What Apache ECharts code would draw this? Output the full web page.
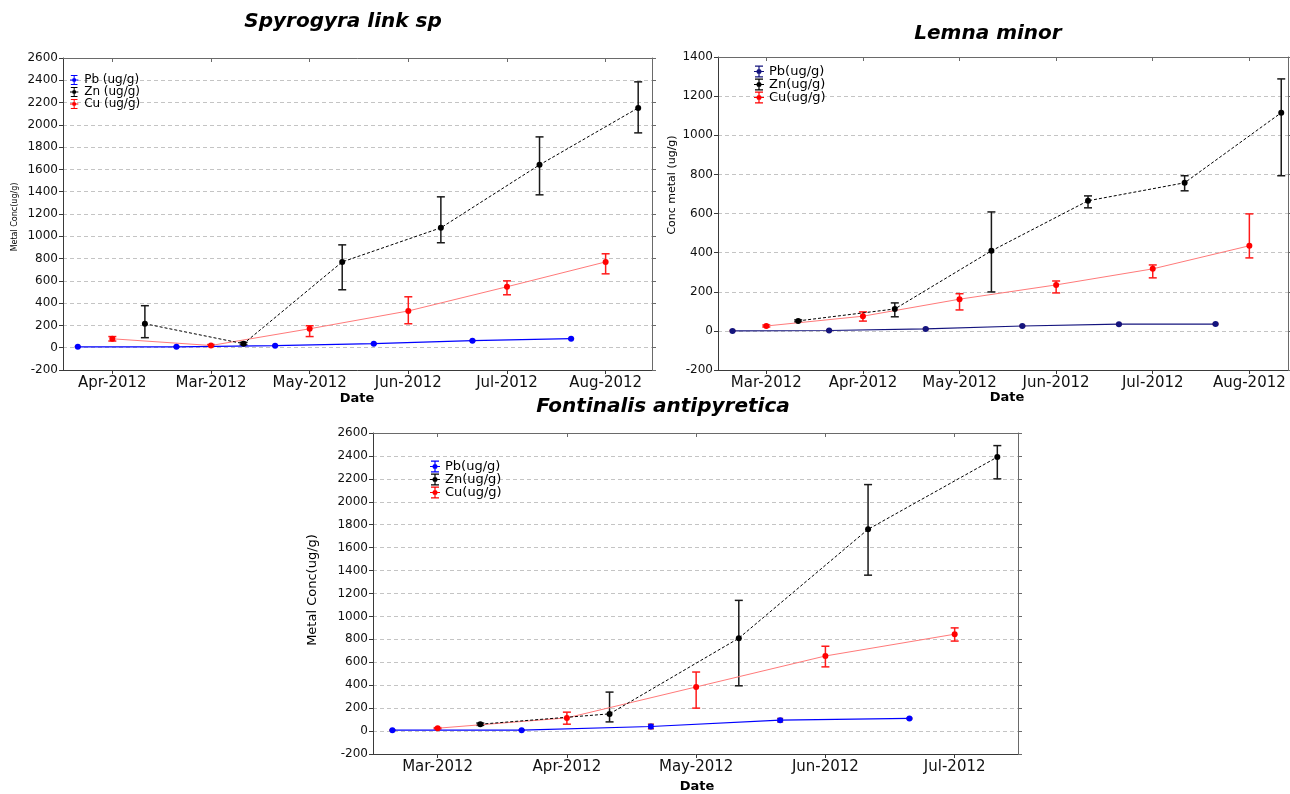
<!DOCTYPE html>
<html>
<head>
<meta charset="utf-8">
<script src="https://cdn.jsdelivr.net/npm/echarts@6/dist/echarts.min.js"></script>
<style>
html,body{margin:0;padding:0;background:#fff;}
#main{width:1290px;height:794px;}
</style>
</head>
<body>
<div id="main"></div>
<script>
// ---------- DATA ----------
// Chart 1: Spyrogyra link sp
const cats1 = ['Apr-2012','Mar-2012','May-2012','Jun-2012','Jul-2012','Aug-2012'];
const pb1   = [8, 8, 18, 36, 63, 81];
const pb1Lo = [5, 5, 15, 33, 60, 78];
const pb1Hi = [11, 11, 21, 39, 66, 84];
const cu1   = [80, 20, 170, 330, 547, 770];
const cu1Lo = [60, 12, 100, 215, 475, 663];
const cu1Hi = [100, 28, 197, 457, 600, 843];
const zn1   = [215, 36, 770, 1076, 1641, 2152];
const zn1Lo = [90, 25, 520, 942, 1372, 1928];
const zn1Hi = [377, 48, 923, 1354, 1892, 2386];

// Chart 2: Lemna minor
const cats2 = ['Mar-2012','Apr-2012','May-2012','Jun-2012','Jul-2012','Aug-2012'];
const pb2   = [0, 2, 10, 25, 34, 35];
const pb2Lo = [-3, -1, 7, 22, 31, 32];
const pb2Hi = [3, 5, 13, 28, 37, 38];
const cu2   = [25, 75, 162, 235, 317, 435];
const cu2Lo = [20, 50, 107, 194, 271, 373];
const cu2Hi = [30, 97, 190, 255, 337, 598];
const zn2   = [51, 112, 409, 665, 757, 1115];
const zn2Lo = [46, 72, 199, 629, 716, 793];
const zn2Hi = [56, 143, 608, 690, 793, 1288];

// Chart 3: Fontinalis antipyretica
const cats3 = ['Mar-2012','Apr-2012','May-2012','Jun-2012','Jul-2012'];
const pb3   = [8, 8, 40, 95, 110];
const pb3Lo = [5, 5, 20, 80, 105];
const pb3Hi = [11, 11, 60, 110, 115];
const cu3   = [25, 115, 385, 655, 845];
const cu3Lo = [20, 60, 200, 560, 785];
const cu3Hi = [30, 165, 515, 740, 900];
const zn3   = [60, 150, 810, 1760, 2390];
const zn3Lo = [50, 80, 395, 1360, 2200];
const zn3Hi = [70, 340, 1140, 2150, 2490];

const titles = ['Spyrogyra link sp', 'Lemna minor', 'Fontinalis antipyretica'];
const yNames = ['Metal Conc(ug/g)', 'Conc metal (ug/g)', 'Metal Conc(ug/g)'];
const legendNames = [
  ['Pb (ug/g)', 'Zn (ug/g)', 'Cu (ug/g)'],
  ['Pb(ug/g)', 'Zn(ug/g)', 'Cu(ug/g)'],
  ['Pb(ug/g)', 'Zn(ug/g)', 'Cu(ug/g)']
];

// ---------- LAYOUT / STYLE ----------
const FONT = 'DejaVu Sans';
const PB_OFF = -0.35, ZN_OFF = 0.33;
const ICON = 'path://M1,0H9V1.2H1Z M4.4,0H5.6V12H4.4Z M1,10.8H9V12H1Z M0,5.4H10V6.6H0Z M2.5,6A2.5,2.5 0 1,1 7.5,6A2.5,2.5 0 1,1 2.5,6Z';

const charts = [
  { cats: cats1, pb: [pb1, pb1Lo, pb1Hi], cu: [cu1, cu1Lo, cu1Hi], zn: [zn1, zn1Lo, zn1Hi],
    grid: {left: 63, top: 58, width: 589, height: 312}, xMin: -0.5, xMax: 5.47, yMin: -200, yMax: 2600,
    pbColor: '#0000ff', legend: {left: 70, top: 74, gap: 0, font: 12, lh: 10},
    title: [343, 22], yName: [15, 217, 8], date: [357, 399] },
  { cats: cats2, pb: [pb2, pb2Lo, pb2Hi], cu: [cu2, cu2Lo, cu2Hi], zn: [zn2, zn2Lo, zn2Hi],
    grid: {left: 718, top: 57, width: 570, height: 313}, xMin: -0.5, xMax: 5.40, yMin: -200, yMax: 1400,
    pbColor: '#14147e', legend: {left: 754, top: 65, gap: 0, font: 13, lh: 12},
    title: [988, 34], yName: [672, 185, 11], date: [1007, 398] },
  { cats: cats3, pb: [pb3, pb3Lo, pb3Hi], cu: [cu3, cu3Lo, cu3Hi], zn: [zn3, zn3Lo, zn3Hi],
    grid: {left: 373, top: 433, width: 645, height: 321}, xMin: -0.5, xMax: 4.49, yMin: -200, yMax: 2600,
    pbColor: '#0000ff', legend: {left: 430, top: 460, gap: 0, font: 13, lh: 12},
    title: [663, 407], yName: [313, 590, 13], date: [697, 787] }
];

const AXIS_COLOR = '#3a3a3a';

const option = {
  animation: false,
  backgroundColor: '#ffffff',
  grid: [], xAxis: [], yAxis: [], series: [], legend: [], graphic: []
};

function errSeries(name, xs, lo, hi, color, k, cap) {
  return {
    type: 'custom', name: name, xAxisIndex: 2 * k, yAxisIndex: 2 * k, z: 3, silent: true,
    data: xs.map((x, i) => [x, lo[i], hi[i]]),
    encode: {x: 0, y: [1, 2]},
    renderItem: function (params, api) {
      const x = api.value(0);
      const top = api.coord([x, api.value(2)]);
      const bot = api.coord([x, api.value(1)]);
      const st = {stroke: color, lineWidth: 1.5};
      return {type: 'group', children: [
        {type: 'line', shape: {x1: top[0], y1: top[1], x2: bot[0], y2: bot[1]}, style: st},
        {type: 'line', shape: {x1: top[0] - cap, y1: top[1], x2: top[0] + cap, y2: top[1]}, style: st},
        {type: 'line', shape: {x1: bot[0] - cap, y1: bot[1], x2: bot[0] + cap, y2: bot[1]}, style: st}
      ]};
    }
  };
}

function lineSeries(name, xs, vals, markColor, lineColor, dash, k, width) {
  return {
    type: 'line', name: name, xAxisIndex: 2 * k, yAxisIndex: 2 * k, z: 4,
    data: xs.map((x, i) => [x, vals[i]]),
    symbol: 'circle', symbolSize: 6, showSymbol: true,
    itemStyle: {color: markColor},
    lineStyle: {color: lineColor, width: width, type: dash},
    emphasis: {disabled: true}
  };
}

charts.forEach((c, k) => {
  option.grid.push(Object.assign({containLabel: false, outerBoundsMode: 'none'}, c.grid));
  const idx = c.cats.map((_, i) => i);
  // bottom axis (data)
  option.xAxis.push({
    type: 'value', gridIndex: k, position: 'bottom', min: c.xMin, max: c.xMax,
    axisLine: {show: true, onZero: false, lineStyle: {color: AXIS_COLOR, width: 1}},
    axisTick: {show: true, inside: false, length: 4, customValues: idx, lineStyle: {color: AXIS_COLOR}},
    axisLabel: {show: true, customValues: idx, margin: 6, fontFamily: FONT, fontSize: 15, color: '#111',
      formatter: v => c.cats[Math.round(v)] || ''},
    splitLine: {show: false}
  });
  // top mirror axis
  option.xAxis.push({
    type: 'value', gridIndex: k, position: 'top', min: c.xMin, max: c.xMax,
    axisLine: {show: true, onZero: false, lineStyle: {color: '#6a6a6a', width: 1}},
    axisTick: {show: true, inside: true, length: 4, customValues: idx, lineStyle: {color: '#6a6a6a'}},
    axisLabel: {show: false}, splitLine: {show: false}
  });
  // left axis (data)
  option.yAxis.push({
    type: 'value', gridIndex: k, position: 'left', min: c.yMin, max: c.yMax, interval: 200,
    axisLine: {show: true, onZero: false, lineStyle: {color: AXIS_COLOR, width: 1}},
    axisTick: {show: true, inside: false, length: 4, lineStyle: {color: AXIS_COLOR}},
    axisLabel: {show: true, margin: 5, fontFamily: FONT, fontSize: 12, color: '#111',
      formatter: v => String(v)},
    splitLine: {show: true, lineStyle: {color: '#c4c4c4', type: [4, 3], width: 1}}
  });
  // right mirror axis
  option.yAxis.push({
    type: 'value', gridIndex: k, position: 'right', min: c.yMin, max: c.yMax, interval: 200,
    axisLine: {show: true, onZero: false, lineStyle: {color: '#6a6a6a', width: 1}},
    axisTick: {show: true, inside: false, length: 4, lineStyle: {color: '#6a6a6a'}},
    axisLabel: {show: false}, splitLine: {show: false}
  });

  const xPb = idx.map(i => i + PB_OFF);
  const xCu = idx.slice();
  const xZn = idx.map(i => i + ZN_OFF);
  const names = legendNames[k];

  option.series.push(errSeries('errPb' + k, xPb, c.pb[1], c.pb[2], '#a02828', k, 3));
  option.series.push(lineSeries(names[0], xPb, c.pb[0], c.pbColor, c.pbColor, 'solid', k, 1.2));
  option.series.push(errSeries('errCu' + k, xCu, c.cu[1], c.cu[2], '#ff1a1a', k, 4));
  option.series.push(lineSeries(names[2], xCu, c.cu[0], '#ff0000', '#ff7a7a', 'solid', k, 1));
  option.series.push(errSeries('errZn' + k, xZn, c.zn[1], c.zn[2], '#1a1a1a', k, 4));
  option.series.push(lineSeries(names[1], xZn, c.zn[0], '#000000', '#000000', [3, 2], k, 1));

  option.legend.push({
    orient: 'vertical', left: c.legend.left, top: c.legend.top, padding: 0,
    itemWidth: 10, itemHeight: c.legend.lh, itemGap: c.legend.gap, selectedMode: false,
    textStyle: {fontFamily: FONT, fontSize: c.legend.font, color: '#000', lineHeight: c.legend.lh},
    data: [
      {name: names[0], icon: ICON, itemStyle: {color: c.pbColor}},
      {name: names[1], icon: ICON, itemStyle: {color: '#000000'}},
      {name: names[2], icon: ICON, itemStyle: {color: '#ff0000'}}
    ]
  });

  option.graphic.push({
    type: 'text', x: c.title[0], y: c.title[1],
    style: {text: titles[k], font: 'italic bold 20px "DejaVu Sans"', fill: '#000',
      align: 'center', verticalAlign: 'middle', textAlign: 'center', textVerticalAlign: 'middle'}
  });
  option.graphic.push({
    type: 'text', x: c.yName[0], y: c.yName[1], rotation: Math.PI / 2,
    style: {text: yNames[k], font: c.yName[2] + 'px "DejaVu Sans"', fill: '#000',
      align: 'center', verticalAlign: 'middle', textAlign: 'center', textVerticalAlign: 'middle'}
  });
  option.graphic.push({
    type: 'text', x: c.date[0], y: c.date[1],
    style: {text: 'Date', font: 'bold 13px "DejaVu Sans"', fill: '#000',
      align: 'center', verticalAlign: 'middle', textAlign: 'center', textVerticalAlign: 'middle'}
  });
});

const chart = echarts.init(document.getElementById('main'), null, {renderer: 'canvas'});
chart.setOption(option);
</script>
</body>
</html>
